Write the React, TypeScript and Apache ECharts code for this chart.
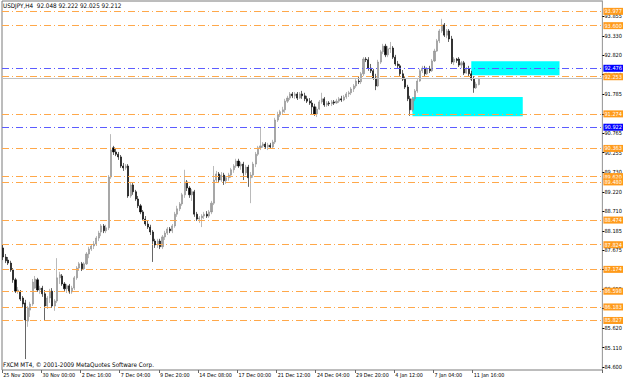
import React, { useEffect, useRef } from 'react';
import * as echarts from 'echarts';

const FONT = "'Liberation Sans Narrow', 'DejaVu Sans Condensed', 'Liberation Sans', sans-serif";

const tickLabels = [
  '25 Nov 2009', '30 Nov 00:00', '2 Dec 16:00', '7 Dec 04:00', '9 Dec 20:00', '14 Dec 08:00',
  '17 Dec 00:00', '21 Dec 12:00', '24 Dec 04:00', '29 Dec 20:00', '4 Jan 12:00', '7 Jan 04:00', '11 Jan 16:00',
];
const SLOT_COUNT = 245;
const categories = Array.from({ length: SLOT_COUNT }, (_, i) => String(i));

const priceTicks = [
  93.855, 93.33, 92.82, 92.31, 91.785, 91.275, 90.765, 90.255, 89.73, 89.22,
  88.71, 88.185, 87.675, 87.165, 86.655, 86.145, 85.62, 85.11, 84.6,
];

const orangeLevels = [93.977, 93.6, 92.253, 91.274, 90.363, 89.62, 89.48, 88.474, 87.824, 87.174, 86.598, 86.183, 85.827];
const blueLevels = [92.476, 90.922];
const bidPrice = 92.212;

const zones = [
  { from: 191, to: 227, top: 92.66, bottom: 92.29 },
  { from: 167, to: 212, top: 91.72, bottom: 91.21 },
];

const open = [
  87.74, 87.50, 87.42, 87.34, 87.16, 86.90, 86.60, 86.58, 86.42, 86.29,
  85.81, 86.10, 86.26, 86.68, 86.90, 86.63, 86.68, 86.53, 86.21, 86.42,
  86.60, 86.21, 86.34, 86.95, 87.00, 86.79, 86.66, 86.74, 86.58, 86.68,
  86.95, 87.21, 87.32, 87.19, 87.32, 87.58, 87.71, 87.79, 87.84, 88.00,
  88.16, 88.32, 88.19, 88.27, 89.61, 90.38, 90.27, 90.21, 90.14, 89.90,
  89.85, 89.90, 89.11, 89.40, 89.22, 89.03, 88.85, 88.69, 88.50, 88.37,
  88.29, 88.16, 87.92, 87.82, 87.92, 87.77, 88.03, 88.13, 88.24, 88.19,
  88.32, 88.63, 88.77, 88.90, 89.14, 89.48, 89.32, 89.14, 89.22, 88.63,
  88.50, 88.53, 88.58, 88.63, 88.58, 88.69, 88.92, 89.53, 89.69, 89.53,
  89.66, 89.51, 89.59, 89.66, 89.80, 89.90, 90.03, 89.90, 89.95, 89.72,
  89.87, 89.59, 89.66, 89.95, 90.21, 90.38, 90.43, 90.48, 90.40, 90.45,
  90.40, 90.53, 91.11, 91.25, 91.33, 91.38, 91.61, 91.69, 91.80, 91.75,
  91.80, 91.69, 91.80, 91.75, 91.67, 91.61, 91.56, 91.46, 91.27, 91.40,
  91.59, 91.67, 91.51, 91.56, 91.54, 91.59, 91.56, 91.61, 91.67, 91.64,
  91.72, 91.80, 91.83, 91.93, 92.01, 92.14, 92.12, 92.33, 92.72, 92.70, 92.48,
  92.41, 92.22, 92.01, 92.64, 92.91, 93.06, 92.83, 92.99, 93.01, 92.77,
  92.59, 92.54, 92.33, 92.19, 91.98, 91.67, 91.38, 91.67, 91.88, 92.14,
  92.41, 92.48, 92.33, 92.46, 92.41, 92.67, 92.93, 93.20, 93.46, 93.62,
  93.35, 93.46, 93.25, 92.64, 92.72, 92.72, 92.56, 92.62, 92.35, 92.46, 92.33,
  92.19, 91.96, 92.048,
];
const close = [
  87.50, 87.40, 87.34, 87.16, 86.90, 86.60, 86.63, 86.39, 86.26, 85.84,
  86.16, 86.26, 86.84, 86.92, 86.63, 86.68, 86.53, 86.21, 86.42, 86.60,
  86.21, 86.34, 86.95, 87.03, 86.79, 86.66, 86.74, 86.58, 86.68, 86.95,
  87.21, 87.32, 87.19, 87.32, 87.58, 87.71, 87.79, 87.84, 88.00, 88.13,
  88.32, 88.19, 88.27, 89.61, 90.32, 90.27, 90.21, 90.14, 89.90, 89.85,
  89.90, 89.11, 89.40, 89.22, 89.03, 88.85, 88.69, 88.50, 88.37, 88.29,
  88.16, 87.92, 87.82, 87.92, 87.77, 88.03, 88.13, 88.24, 88.19, 88.32,
  88.63, 88.77, 88.90, 89.14, 89.48, 89.32, 89.14, 89.22, 88.63, 88.50,
  88.53, 88.58, 88.63, 88.58, 88.69, 88.92, 89.53, 89.69, 89.53, 89.66,
  89.51, 89.59, 89.66, 89.80, 89.90, 90.03, 89.90, 89.95, 89.72, 89.87,
  89.59, 89.66, 89.95, 90.21, 90.38, 90.43, 90.48, 90.40, 90.45, 90.40,
  90.53, 91.11, 91.25, 91.33, 91.38, 91.61, 91.69, 91.80, 91.75, 91.80,
  91.69, 91.80, 91.75, 91.67, 91.61, 91.56, 91.46, 91.27, 91.40, 91.59,
  91.67, 91.51, 91.56, 91.54, 91.59, 91.56, 91.61, 91.67, 91.64, 91.72,
  91.80, 91.83, 91.93, 92.01, 92.14, 92.12, 92.33, 92.72, 92.70, 92.48, 92.41,
  92.22, 92.01, 92.64, 92.91, 93.06, 92.83, 92.99, 93.01, 92.77, 92.59,
  92.54, 92.33, 92.19, 91.98, 91.67, 91.38, 91.67, 91.88, 92.14, 92.41,
  92.48, 92.33, 92.46, 92.41, 92.67, 92.93, 93.20, 93.46, 93.62, 93.35,
  93.46, 93.25, 92.64, 92.72, 92.68, 92.56, 92.62, 92.35, 92.46, 92.33, 92.19,
  91.96, 92.06, 92.212,
];
const low = [
  87.42, 87.34, 87.29, 87.11, 86.82, 86.55, 86.53, 86.34, 86.16, 84.81,
  85.66, 85.92, 86.21, 86.66, 86.58, 86.53, 86.45, 85.84, 86.13, 86.29,
  86.16, 86.08, 86.29, 86.79, 86.74, 86.60, 86.55, 86.53, 86.53, 86.63,
  86.90, 87.13, 87.13, 87.16, 87.29, 87.47, 87.66, 87.71, 87.79, 87.92,
  88.05, 88.13, 88.13, 88.21, 89.56, 90.19, 90.16, 90.06, 89.85, 89.77,
  89.80, 89.06, 89.06, 89.14, 88.98, 88.79, 88.63, 88.45, 88.32, 88.24,
  88.08, 87.37, 87.74, 87.74, 87.71, 87.71, 87.95, 88.08, 88.13, 88.13,
  88.27, 88.56, 88.71, 88.85, 89.06, 89.24, 89.06, 88.98, 88.56, 88.45,
  88.40, 88.29, 88.50, 88.53, 88.53, 88.63, 88.87, 89.48, 89.45, 89.48,
  89.40, 89.43, 89.51, 89.59, 89.72, 89.85, 89.85, 89.80, 89.53, 89.66,
  89.35, 88.92, 89.59, 89.87, 90.16, 90.32, 90.38, 90.35, 90.32, 90.35,
  90.35, 90.48, 91.06, 91.19, 91.27, 91.30, 91.56, 91.64, 91.69, 91.67,
  91.64, 91.67, 91.67, 91.61, 91.56, 91.51, 91.25, 91.22, 91.19, 91.38,
  91.54, 91.46, 91.46, 91.48, 91.48, 91.51, 91.54, 91.56, 91.59, 91.61,
  91.67, 91.72, 91.77, 91.85, 91.96, 92.06, 92.06, 92.27, 92.64, 92.41, 92.35,
  92.17, 91.90, 91.98, 92.59, 92.85, 92.77, 92.77, 92.88, 92.72, 92.54,
  92.46, 92.27, 92.14, 91.93, 91.61, 91.22, 91.33, 91.61, 91.83, 92.12,
  92.35, 92.27, 92.30, 92.35, 92.38, 92.64, 92.91, 93.14, 93.41, 93.30,
  93.27, 93.17, 92.59, 92.56, 92.62, 92.51, 92.48, 92.30, 92.33, 92.27, 92.14,
  91.83, 91.93, 92.025,
];
const high = [
  87.82, 87.58, 87.50, 87.40, 87.21, 86.95, 86.71, 86.63, 86.47, 86.37,
  86.21, 86.32, 86.92, 87.00, 86.95, 86.74, 86.74, 86.63, 86.47, 86.66,
  86.68, 86.39, 87.47, 87.11, 87.05, 86.84, 86.79, 86.79, 86.74, 87.00,
  87.26, 87.37, 87.37, 87.37, 87.63, 87.77, 87.84, 87.92, 88.05, 88.19,
  88.37, 88.37, 88.35, 89.66, 90.74, 90.43, 90.35, 90.27, 90.19, 89.98,
  89.95, 89.95, 89.48, 89.45, 89.27, 89.11, 88.90, 88.74, 88.58, 88.45,
  88.35, 88.21, 87.98, 87.98, 87.98, 88.08, 88.19, 88.29, 88.29, 88.37,
  88.69, 88.85, 88.95, 89.19, 89.80, 89.53, 89.37, 89.29, 89.27, 88.69,
  88.58, 88.63, 88.69, 88.71, 88.74, 88.98, 89.90, 89.77, 89.74, 89.74,
  89.72, 89.64, 89.72, 89.85, 89.95, 90.09, 90.09, 90.01, 90.01, 89.93,
  89.93, 89.74, 90.01, 90.27, 90.43, 90.90, 90.53, 90.53, 90.51, 90.51,
  90.59, 91.17, 91.33, 91.38, 91.46, 91.67, 91.75, 91.85, 91.85, 91.85,
  91.85, 91.85, 91.88, 91.83, 91.75, 91.69, 91.64, 91.54, 91.46, 91.64,
  91.83, 91.72, 91.61, 91.61, 91.64, 91.64, 91.67, 91.72, 91.75, 91.77,
  91.85, 91.88, 91.98, 92.06, 92.19, 92.25, 92.38, 92.77, 92.77, 92.77, 92.59,
  92.46, 92.33, 92.70, 92.96, 93.12, 93.12, 93.06, 93.17, 93.06, 92.83,
  92.67, 92.59, 92.43, 92.25, 92.04, 91.75, 91.72, 91.93, 92.19, 92.46,
  92.54, 92.54, 92.51, 92.54, 92.72, 92.99, 93.25, 93.51, 93.78, 93.67,
  93.51, 93.51, 93.33, 92.77, 92.75, 92.77, 92.67, 92.67, 92.51, 92.54, 92.41,
  92.27, 92.12, 92.222,
];

const titleText = 'USDJPY,H4  92.048 92.222 92.025 92.212';
const footerText = 'FXCM MT4, \u00A9 2001-2009 MetaQuotes Software Corp.';

export default function App() {
  const ref = useRef<HTMLDivElement>(null);
  useEffect(() => {
    document.body.style.margin = '0';
    const chart = echarts.init(ref.current!, null, { renderer: 'svg' });
    const candles = open.map((o, i) => [o, close[i], low[i], high[i]]);
    const dashDot = [7, 3, 1, 3];
    const lineData: any[] = [
      {
        yAxis: bidPrice,
        lineStyle: { color: '#c0c0c0', type: 'solid', width: 1 },
        label: { show: false },
      },
      ...blueLevels.map((v) => ({
        yAxis: v,
        lineStyle: { color: '#5c5cff', type: dashDot, width: 1 },
        label: { backgroundColor: '#0000ff' },
      })),
      ...orangeLevels.map((v) => ({
        yAxis: v,
        lineStyle: { color: '#ffa84a', type: dashDot, width: 1 },
        label: { backgroundColor: '#ff9a1a' },
      })),
    ];
    const showIdx = (index: number) => index % 16 === 0 && index / 16 < tickLabels.length;
    const option: any = {
      animation: false,
      backgroundColor: '#ffffff',
      grid: {
        left: 2, right: 22, top: 1, bottom: 11,
        show: true, borderColor: '#7a7a7a', borderWidth: 1, backgroundColor: '#ffffff',
      },
      xAxis: {
        type: 'category',
        data: categories,
        boundaryGap: true,
        axisLine: { show: false },
        axisTick: { show: true, interval: showIdx, length: 3, lineStyle: { color: '#666' } },
        axisLabel: {
          interval: showIdx,
          formatter: (_v: string, index: number) => tickLabels[index / 16] ?? '',
          align: 'left',
          margin: 2,
          color: '#000',
          fontSize: 5.4,
          fontFamily: FONT,
        },
        splitLine: { show: false },
      },
      yAxis: {
        type: 'value',
        position: 'right',
        min: 84.521,
        max: 94.25,
        scale: true,
        axisLine: { show: true, lineStyle: { color: '#a0a0a0', width: 1 } },
        axisTick: { show: true, length: 2, customValues: priceTicks, lineStyle: { color: '#000' } },
        axisLabel: {
          customValues: priceTicks,
          formatter: (v: number) => v.toFixed(3),
          margin: 2,
          color: '#000',
          fontSize: 5.6,
          fontFamily: FONT,
        },
        splitLine: { show: false },
      },
      series: [
        {
          type: 'line',
          data: [],
          z: 1,
          silent: true,
          markArea: {
            silent: true,
            itemStyle: { color: '#00ffff', opacity: 1 },
            data: zones.map((z) => [
              { coord: [z.from, z.top] },
              { coord: [z.to, z.bottom] },
            ]),
          },
        },
        {
          type: 'line',
          data: [],
          z: 2,
          silent: true,
          markLine: {
            silent: true,
            symbol: ['none', 'none'],
            precision: 3,
            data: lineData,
            label: {
              show: true,
              position: 'end',
              distance: 1,
              color: '#ffffff',
              fontSize: 5.6,
              fontFamily: FONT,
              padding: [1, 1, 0, 1],
              formatter: (p: any) => Number(p.value).toFixed(3),
            },
          },
        },
        {
          type: 'candlestick',
          data: candles,
          z: 3,
          barWidth: 1.6,
          itemStyle: {
            color: '#a0a0a0',
            color0: '#000000',
            borderColor: '#8c8c8c',
            borderColor0: '#000000',
            borderWidth: 0.6,
          },
        },
      ],
      graphic: [
        {
          type: 'text',
          left: 3,
          top: 2,
          z: 10,
          style: { text: titleText, fill: '#000', fontSize: 6.3, fontFamily: FONT },
        },
        {
          type: 'text',
          left: 3,
          top: 361,
          z: 10,
          style: { text: footerText, fill: '#000', fontSize: 6.3, fontFamily: FONT },
        },
      ],
    };
    chart.setOption(option);
    return () => chart.dispose();
  }, []);
  return <div ref={ref} style={{ width: 625, height: 381 }} />;
}
